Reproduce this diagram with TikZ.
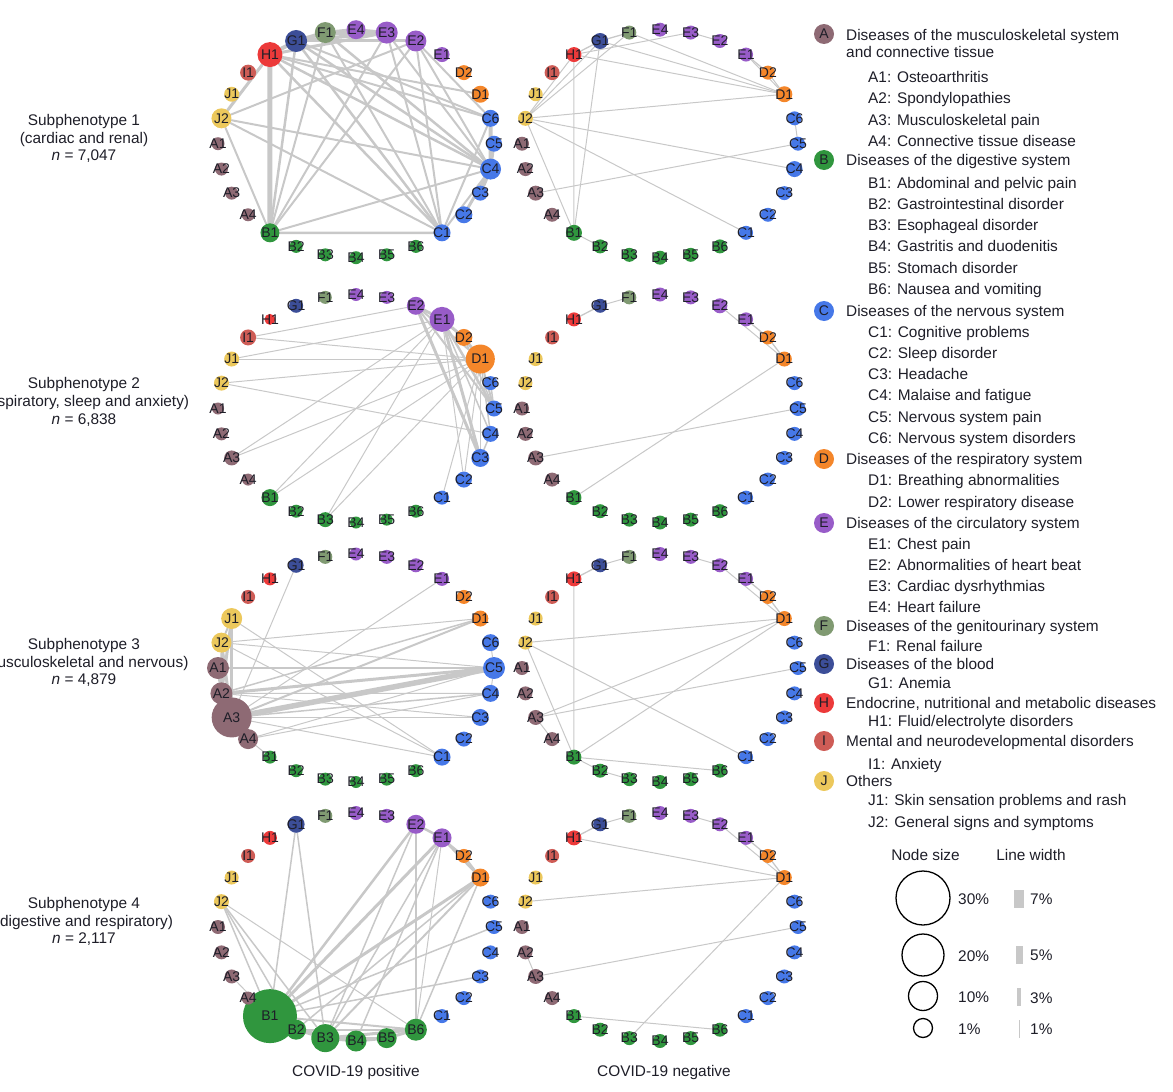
\documentclass[tikz,border=0pt]{standalone}
\usepackage{fontspec}
\setmainfont{Liberation Sans}
\usetikzlibrary{calc}
\usetikzlibrary{backgrounds}
\definecolor{colA}{RGB}{142,106,116}
\definecolor{colB}{RGB}{48,150,62}
\definecolor{colC}{RGB}{70,120,232}
\definecolor{colD}{RGB}{244,134,42}
\definecolor{colE}{RGB}{152,92,200}
\definecolor{colF}{RGB}{128,154,114}
\definecolor{colG}{RGB}{60,78,152}
\definecolor{colH}{RGB}{236,58,58}
\definecolor{colI}{RGB}{206,92,86}
\definecolor{colJ}{RGB}{236,200,92}
\definecolor{lnkgray}{RGB}{200,200,200}
\definecolor{inkdark}{RGB}{30,30,40}
\newcommand{\defaultdia}{14}
\newcommand{\colposx}{356}
\newcommand{\colnegx}{660}
\newcommand{\ringorder}{G/1,F/1,E/4,E/3,E/2,E/1,D/2,D/1,C/6,C/5,C/4,C/3,C/2,C/1,
  B/6,B/5,B/4,B/3,B/2,B/1,A/4,A/3,A/2,A/1,J/2,J/1,I/1,H/1}
% sizes of the nodes that are not of the default size
\newcommand{\nodesizes}[2]{%
  \foreach \sznode/\szval in {#2} {%
    \expandafter\xdef\csname sz#1\sznode\endcsname{\szval}}%
}
% the 28 diagnoses on an ellipse round (cx,cy): big circles first
\newcommand{\diseasering}[3]{%
  \foreach \pass in {1,2} {%
    \foreach \dgrp/\dnum [count=\i from 0] in \ringorder {%
      \pgfmathsetmacro{\ang}{-90+(\i-2)*360/28}%
      \ifcsname sz#1\dgrp\dnum\endcsname
        \edef\dia{\csname sz#1\dgrp\dnum\endcsname}%
      \else
        \edef\dia{\defaultdia}%
      \fi
      \pgfmathtruncatemacro{\drawnow}{((\pass==1)&&(\dia>23))||((\pass==2)&&(\dia<=23))}%
      \ifnum\drawnow=1
        \node[dis, fill=col\dgrp, minimum size=\dia pt]
          (#1\dgrp\dnum) at ($(#2,#3)+(\ang:138 and 114)$) {};
      \fi
    }%
  }%
  % labels on top
  \foreach \dgrp/\dnum in \ringorder {%
    \node[lbl] (#1\dgrp\dnum lab) at (#1\dgrp\dnum) {\dgrp\dnum};
  }%
}
% co-occurrence links of one ring
\newcommand{\links}[2]{%
  \foreach \ndA/\ndB/\lwd in {#2} {%
    \draw[lnk, line width=\lwd pt] (#1\ndA) -- (#1\ndB);}%
}

\begin{document}
\begin{tikzpicture}[x=1pt, y=-1pt,
  dis/.style={circle, inner sep=0pt, draw=none},
  lbl/.style={font=\fontsize{14}{14}\selectfont, text=inkdark, inner sep=0pt},
  lnk/.style={draw=lnkgray, line cap=round},
  txt/.style={font=\fontsize{15.4}{17.6}\selectfont, text=inkdark, inner sep=0pt},
  lgd/.style={txt, anchor=base west}]
  \useasboundingbox (0,0) rectangle (1173,1092);

  % node sizes
  \nodesizes{s1p}{H1/25,G1/22,F1/21,E4/19,E3/22,E2/21,E1/15,D2/15,D1/17,
    C6/17,C5/16,C4/21,C3/15,C2/17,C1/17,B1/19,J2/20,J1/15,I1/16,
    B2/13,B3/13,B4/13,B5/13,B6/13,A1/13,A2/13,A3/13,A4/13}
  \nodesizes{s1n}{G1/16,D1/16,B1/16,C4/16,J2/15,H1/15,I1/15,A3/15}
  \nodesizes{s2p}{E1/25,D1/29,E2/18,D2/17,C3/18,C5/16,C4/16,C2/16,I1/16,
    J1/15,J2/15,A3/15,B1/17,B3/15,F1/13,H1/11,E4/13,E3/13,A1/12,A2/13,
    A4/12,B2/13,B4/12,B5/12,B6/13}
  \nodesizes{s2n}{D1/15,E2/15,C5/15,B1/15,A3/15}
  \nodesizes{s3p}{A3/40,A2/22,A1/22,J1/21,J2/20,A4/20,C5/22,C6/17,C4/17,
    C3/17,C1/17,C2/15,D1/16,G1/15,E4/13,H1/13,B1/13,B2/13,B3/13,B4/12,
    B5/13,B6/13}
  \nodesizes{s3n}{H1/15,D1/15,B1/15,A3/15}
  \nodesizes{s4p}{B1/54,B3/28,B2/20,B4/21,B5/20,B6/22,E2/19,E1/19,D1/18,
    G1/17,J2/15,A4/13}
  \nodesizes{s4n}{D1/15,H1/15,A3/15}

  % rings
  \diseasering{s1p}{\colposx}{143.7}
  \diseasering{s1n}{\colnegx}{143.7}
  \diseasering{s2p}{\colposx}{408.5}
  \diseasering{s2n}{\colnegx}{408.5}
  \diseasering{s3p}{\colposx}{668}
  \diseasering{s3n}{\colnegx}{668}
  \diseasering{s4p}{\colposx}{927}
  \diseasering{s4n}{\colnegx}{927}

  \begin{scope}[on background layer]
    % subphenotype 1
    \links{s1p}{H1/B1/5,H1/G1/4,G1/F1/4,F1/E4/3.5,E4/E3/3,F1/E3/4,
      G1/E3/3.5,H1/E3/3,G1/E2/3,H1/J2/3,C6/C4/4,C4/C3/3.5,C4/C2/3,
      C5/C4/3,H1/C4/2.5,H1/C6/2,H1/D1/2,H1/C1/2.5,G1/C4/2.5,G1/C1/2.5,
      G1/C6/2,G1/B1/2.5,F1/C4/2.5,F1/C1/2,F1/B1/2,E3/B1/2,E2/B1/2,
      E3/C1/2,E2/C1/2,E2/C4/2,E3/C4/2,E2/C6/2,J2/C4/2,J2/C1/2,J2/E2/2,
      J2/B1/2,B1/C4/2,B1/C1/2.5,C1/C4/2,C1/C6/2}
    \links{s1n}{J2/H1/1,J2/G1/1,J2/F1/1,J2/D1/1,J2/C4/1,J2/C1/1,J2/B1/1,
      H1/B1/1,G1/B1/1,H1/G1/1.3,G1/F1/1.3,H1/D1/1,G1/D1/1,F1/D1/1,
      H1/E3/1,E3/E2/1,E1/D2/1.3,E1/D1/1,D2/D1/1,C6/C5/1,C5/A3/1,B1/B2/1}
    % subphenotype 2
    \links{s2p}{I1/E2/1,I1/D1/1,J1/E1/1,J1/D1/1,J2/D1/1,J2/C4/1,A3/E1/1,
      A3/D1/1,B1/E1/1,B1/D1/1,B3/E1/1,B3/D1/1,C1/D1/1,C2/D1/1,C2/E1/1,
      E2/E1/3,E1/D2/3,D2/D1/3,E2/C3/3,E1/C3/3,E2/C5/2,E1/C5/2.5,
      D1/C5/2,D1/C4/1.5,D1/C3/1.5,E1/C4/1.5,D2/C5/1.5,C6/C5/1.5,
      C4/C3/1.5,E2/D1/2}
    \links{s2n}{H1/G1/1.3,G1/F1/1,E2/D1/1,E1/D2/1.3,D2/D1/1.3,A3/C5/1,
      B1/D1/1}
    % subphenotype 3
    \links{s3p}{A3/C5/5.5,A2/C5/3,A1/C5/1.5,A4/C5/1,J2/C5/1,J2/D1/1,
      J2/C1/1,J1/C1/1,A3/D1/2,A2/D1/1.5,A3/E1/1,A3/G1/1,A3/C4/1.5,
      A3/C3/1,A2/C3/1,A3/C1/1,A2/C4/1,A4/C4/1,J1/A3/3,J1/A2/3,J2/A3/3,
      J2/A2/2,A1/A2/3,A1/A3/3,A2/A3/3,J1/J2/2,A3/A4/2,C6/C5/1,C5/C4/1,
      A4/B1/1}
    \links{s3n}{H1/G1/1.3,G1/F1/1,H1/B1/1,E3/E2/1,E1/D2/1.3,D2/D1/1.3,
      E2/D1/1,J2/D1/1,J2/B1/1,J2/C1/1,A3/D1/1,A3/C5/1,A3/A4/1,B1/D1/1,
      B1/B2/1,B2/B3/1,B1/B6/1}
    % subphenotype 4
    \links{s4p}{J2/B1/1.5,J2/B2/1.5,J2/B3/1.5,J2/B6/1,G1/B1/1.5,G1/B3/1.5,
      E2/B1/2.5,E2/B3/1.5,E2/B6/1.5,E2/E1/2.5,E1/B1/3,E1/B3/1.5,
      E1/B4/1.5,E1/B6/1,E1/D1/2.5,E1/D2/1.5,D1/B1/3,D1/B2/1.5,D1/B3/2,
      D1/B6/1.5,D2/D1/2,C5/B1/1.5,C3/B1/1.5,A4/B1/1.5,A3/B1/1,B1/B3/3,
      B2/B3/3,B3/B4/3,B4/B5/3,B5/B6/3,B1/B6/2,B3/B6/3,B2/B6/2,B1/B2/3,
      B3/B5/2}
    \links{s4n}{H1/G1/1.3,G1/F1/1,H1/D1/1,J2/D1/1,E3/E2/1,E2/D1/1,
      E1/D2/1.3,D2/D1/1.3,A2/A3/1,A3/C5/1,B1/B6/1,B3/D1/1}
  \end{scope}

  % row and column labels
  \node[txt, align=center] (rowone) at (84,138.5)
    {Subphenotype 1\\(cardiac and renal)\\\textit{n} = 7,047};
  \node[txt, align=center] (rowtwo) at (84,402)
    {Subphenotype 2\\(respiratory, sleep and anxiety)\\\textit{n} = 6,838};
  \node[txt, align=center] (rowthree) at (84,662.5)
    {Subphenotype 3\\(musculoskeletal and nervous)\\\textit{n} = 4,879};
  \node[txt, align=center] (rowfour) at (84,921.5)
    {Subphenotype 4\\(digestive and respiratory)\\\textit{n} = 2,117};
  \node[txt] (colpos) at (\colposx,1073) {COVID-19 positive};
  \node[txt] (colneg) at (664,1073) {COVID-19 negative};

  % legend: groups
  \node[dis, fill=colA, minimum size=20pt, label={[lbl]center:A}] (keyA) at (824,34) {};
  \node[lgd] (keyAtxt) at (846,40) {Diseases of the musculoskeletal system};
  \node[lgd] (keyAtxttwo) at (846,57) {and connective tissue};
  \foreach \c/\y/\grouptext in {B/160/Diseases of the digestive system,
      C/311/Diseases of the nervous system,
      D/459/Diseases of the respiratory system,
      E/523/Diseases of the circulatory system,
      F/626/Diseases of the genitourinary system,
      G/664/Diseases of the blood,
      H/703/{Endocrine, nutritional and metabolic diseases},
      I/741/Mental and neurodevelopmental disorders,
      J/781/Others} {
    \node[dis, fill=col\c, minimum size=20pt, label={[lbl]center:\c}] (key\c) at (824,\y) {};
    \node[lgd] (key\c txt) at (846,\y+5) {\grouptext};
  }
  % legend: diagnoses
  \foreach \y/\itemtext in {77/A1: Osteoarthritis, 98/A2: Spondylopathies,
      120/A3: Musculoskeletal pain, 141/A4: Connective tissue disease,
      183/B1: Abdominal and pelvic pain, 204/B2: Gastrointestinal disorder,
      225/B3: Esophageal disorder, 246/B4: Gastritis and duodenitis,
      268/B5: Stomach disorder, 289/B6: Nausea and vomiting,
      332/C1: Cognitive problems, 353/C2: Sleep disorder, 374/C3: Headache,
      395/C4: Malaise and fatigue, 417/C5: Nervous system pain,
      438/C6: Nervous system disorders, 480/D1: Breathing abnormalities,
      502/D2: Lower respiratory disease, 544/E1: Chest pain,
      565/E2: Abnormalities of heart beat, 586/E3: Cardiac dysrhythmias,
      607/E4: Heart failure, 646/F1: Renal failure, 683/G1: Anemia,
      721/{H1: Fluid/electrolyte disorders}, 764/I1: Anxiety,
      800/J1: Skin sensation problems and rash,
      822/J2: General signs and symptoms} {
    \node[lgd] (item\y) at (868,\y+5) {\itemtext};
  }

  % legend: node size and line width
  \node[txt] (sizehead) at (925.5,855) {Node size};
  \node[txt] (widthhead) at (1031,855) {Line width};
  \foreach \y/\d/\p in {898/54/30, 955/42/20, 996/29/10, 1028/19/1} {
    \node[circle, draw=black, line width=1.3pt, inner sep=0pt,
      minimum size=\d pt] (size\p) at (923,\y) {};
    \node[txt, anchor=west] (size\p lab) at (958,\y+1) {\p\%};
  }
  \foreach \y/\w/\p in {898.5/9.7/7, 954.5/6.7/5, 997/3.7/3, 1028.5/1.2/1} {
    \node[fill=lnkgray, inner sep=0pt, minimum width=\w pt,
      minimum height=18pt] (width\p) at (1019.2,\y) {};
    \node[txt, anchor=west] (width\p lab) at (1030,\y+1) {\p\%};
  }
\end{tikzpicture}
\end{document}
